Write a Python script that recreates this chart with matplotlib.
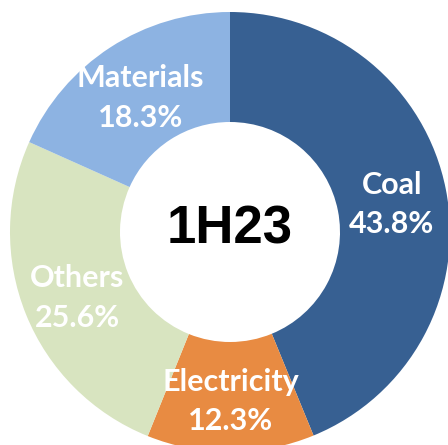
import numpy as np
import matplotlib as mpl
mpl.use('Agg')
from matplotlib import pyplot as plt

## Segment data (clockwise from 12 o'clock)
segments = ['Coal', 'Electricity', 'Others', 'Materials']
shares = [43.8, 12.3, 25.6, 18.3]
colors = ['#376092', '#E88B42', '#D8E4C0', '#8DB3E2']
center_label = '1H23'


def main():
    fig = plt.figure(figsize=(4.48, 4.45), dpi=100)
    ax = fig.add_axes([0, 0, 1, 1])

    wedges, _ = ax.pie(shares, colors=colors, startangle=90, counterclock=False,
                       radius=1.0, wedgeprops=dict(width=0.5, linewidth=0))

    # label each ring segment at its mid-angle
    for w, name, val in zip(wedges, segments, shares):
        ang = np.deg2rad((w.theta1 + w.theta2) / 2.0)
        r = 0.75
        ax.text(r*np.cos(ang), r*np.sin(ang) - 0.02, f'{name}\n{val:.1f}%',
                ha='center', va='center', color='white', fontsize=22,
                fontweight='bold', family='Lato', linespacing=1.5)

    ax.text(0, 0.01, center_label, ha='center', va='center', fontsize=38,
            fontweight='bold', family='Liberation Sans', color='black')

    # the ring is slightly cropped at the right and bottom
    ax.set_xlim(-230/220., 218/220.)
    ax.set_ylim(-213/220., 232/220.)
    ax.set_aspect('equal')
    ax.axis('off')
    fig.savefig('out.png', dpi=100)


if __name__ == '__main__':
    main()
